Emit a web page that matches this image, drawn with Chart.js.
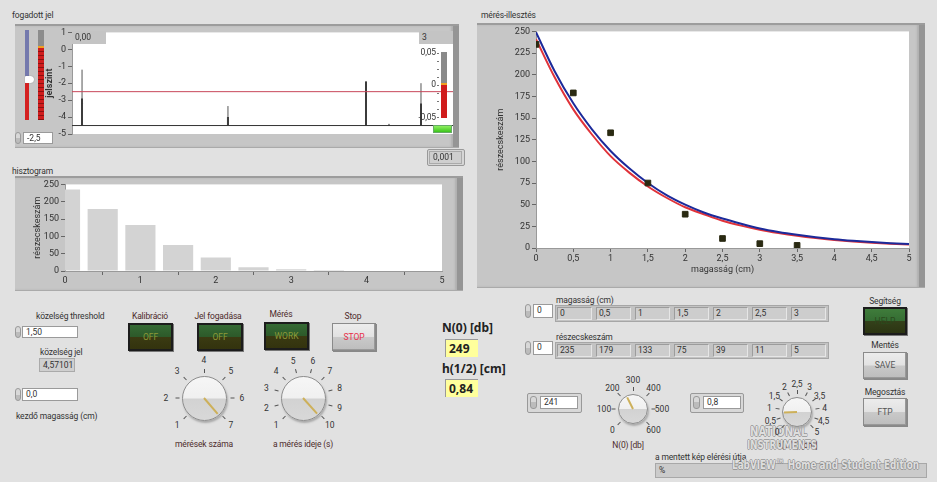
<!DOCTYPE html>
<html>
<head>
<meta charset="utf-8">
<script src="https://cdn.jsdelivr.net/npm/chart.js@4.4.1/dist/chart.umd.min.js"></script>
<style>
  body { margin: 0; width: 937px; height: 482px; background: #e1e1e1; font-family: Roboto, 'Noto Sans', sans-serif; font-size: 9px; color: #333; position: relative; overflow: hidden; }
  .abs { position: absolute; }
  .lbl { position: absolute; white-space: nowrap; font-size: 8.5px; letter-spacing: -0.15px; color: #333; line-height: 11px; }
  .ctr { transform: translateX(-50%); }
  .maroon { color: #4d2b2b; }
  .frame { position: absolute; background: #c6c6c6; border-top: 2px solid #9c9c9c; border-bottom: 1px solid #aaa; box-shadow: inset -6px 0 0 #959595, inset -8px 0 2px #b0b0b0; }
  .num { position: absolute; background: #fff; border: 1px solid #9a9a9a; font-size: 8.5px; line-height: 11px; padding-left: 3px; box-sizing: border-box; }
  .spin { position: absolute; width: 6px; background: linear-gradient(#d8d8d8 50%, #bcbcbc 50%); border: 1px solid #999; border-radius: 3px; box-sizing: border-box; }
  .ind { position: absolute; background: #cfcfcf; border: 1px solid #aaa; box-sizing: border-box; font-size: 8.5px; line-height: 12px; padding-left: 3px; }
  .btnG { position: absolute; border: 2px solid #1c1c1c; box-sizing: border-box; background: linear-gradient(#356a34 0%, #2d5a2a 48%, #3a3a12 52%, #33330e 100%); color: #8c9a38; text-align: center; font-size: 8.5px; box-shadow: 1px 1px 0 #777; }
  .btnL { position: absolute; border: 1px solid #8a8a8a; box-sizing: border-box; background: linear-gradient(#ececec 0%, #e2e2e2 48%, #c9c9c9 52%, #bdbdbd 100%); color: #555; text-align: center; font-size: 8.5px; box-shadow: 1px 1px 0 #888, inset -1px -1px 0 #999; }
  .yel { position: absolute; background: #ffff9c; border-top: 1px solid #999; border-left: 1px solid #999; font-weight: bold; font-size: 12px; line-height: 17px; padding-left: 3px; box-sizing: border-box; color: #222; font-family: 'Noto Sans', sans-serif; }
  .bold { position: absolute; font-weight: bold; font-size: 12px; color: #222; white-space: nowrap; font-family: 'Noto Sans', sans-serif; }
  .arr { position: absolute; background: #c3c3c3; border: 1px solid #a6a6a6; box-sizing: border-box; }
  .cell { position: absolute; top: 1px; width: 35px; height: 13px; background: #cdcdcd; border: 1px solid #9c9c9c; border-right-color: #e6e6e6; border-bottom-color: #e6e6e6; box-sizing: border-box; font-size: 8.5px; line-height: 11px; padding-left: 2px; }
  .knob { position: absolute; border-radius: 50%; border: 1px solid #8d8d8d; box-sizing: border-box; background: linear-gradient(#f6f6f6 0%, #f0f0f0 49%, #d2d2d2 51%, #d8d8d8 100%); box-shadow: 1px 2px 2px #aaa; }
  .kl { position: absolute; font-size: 8.5px; line-height: 10px; color: #333; transform: translate(-50%, -50%); white-space: nowrap; }
  .kt { position: absolute; width: 1px; background: #555; transform-origin: 50% 0; }
  .needle { position: absolute; width: 2px; background: #cdb05a; transform-origin: 50% 0; }
  canvas { position: absolute; }
  .wm { position: absolute; color: rgba(250,250,250,0.8); font-family: 'DejaVu Sans', sans-serif; font-weight: bold; white-space: nowrap; transform-origin: 0 0;
        text-shadow: 1px 0 0 rgba(120,120,120,0.6), -1px 0 0 rgba(120,120,120,0.6), 0 1px 0 rgba(120,120,120,0.6), 0 -1px 0 rgba(120,120,120,0.6); }
</style>
</head>
<body>

<!-- labels of the three graphs -->
<div class="lbl" style="left:12px;top:10px;">fogadott jel</div>
<div class="lbl" style="left:12px;top:166px;">hisztogram</div>
<div class="lbl" style="left:481px;top:10px;">mérés-illesztés</div>

<!-- graph frames -->
<div class="frame" style="left:15px;top:24px;width:444px;height:121px;"></div>
<div class="frame" style="left:15px;top:176px;width:448px;height:112px;"></div>
<div class="frame" style="left:477px;top:23px;width:448px;height:262px;"></div>

<canvas id="jelChart" width="444" height="122" style="left:15px;top:25px;"></canvas>
<canvas id="histChart" width="444" height="113" style="left:15px;top:177px;"></canvas>
<canvas id="fitChart" width="448" height="263" style="left:477px;top:24px;"></canvas>

<!-- fogadott jel extras -->
<div class="abs" style="left:25px;top:30px;width:4px;height:50px;background:#7479ad;"></div>
<div class="abs" style="left:25px;top:80px;width:4px;height:40px;background:#d42020;"></div>
<div class="abs" style="left:25px;top:76px;width:9px;height:7px;background:#fff;border-radius:1px 4px 4px 1px;box-shadow:0 0 1px #666;"></div>
<div class="abs" style="left:38px;top:30px;width:6px;height:16px;background:#8c8c8c;"></div>
<div class="abs" style="left:38px;top:46px;width:6px;height:2px;background:#f0a020;"></div>
<div class="abs" style="left:38px;top:48px;width:6px;height:72px;background:repeating-linear-gradient(#d01c1c 0 3px, #8a1010 3px 4px);"></div>
<div class="spin" style="left:15px;top:132px;height:12px;"></div>
<div class="num" style="left:23px;top:132px;width:30px;height:12px;">-2,5</div>

<div class="abs" style="left:72px;top:31px;width:34px;height:13px;background:#c4c4c4;font-size:8.5px;line-height:13px;padding-left:3px;box-sizing:border-box;">0,00</div>
<div class="abs" style="left:419px;top:31px;width:34px;height:13px;background:#c4c4c4;font-size:8.5px;line-height:13px;padding-left:3px;box-sizing:border-box;">3</div>
<div class="lbl" style="left:414px;top:47px;width:22px;text-align:right;">0,05</div>
<div class="lbl" style="left:414px;top:79px;width:22px;text-align:right;">0</div>
<div class="lbl" style="left:414px;top:112px;width:22px;text-align:right;">-0,05</div>
<div class="abs" style="left:437px;top:53px;width:2px;height:66px;background:repeating-linear-gradient(#777 0 1px, transparent 1px 8px);"></div>
<div class="abs" style="left:441px;top:52px;width:6px;height:31px;background:#8a8a8a;"></div>
<div class="abs" style="left:441px;top:83px;width:6px;height:2px;background:#f0a020;"></div>
<div class="abs" style="left:441px;top:85px;width:6px;height:33px;background:#d01c1c;"></div>
<div class="abs" style="left:433px;top:125px;width:19px;height:8px;background:linear-gradient(#8ef060,#3cc41c);border:1px solid #6a6;box-sizing:border-box;"></div>
<div class="abs" style="left:427px;top:149px;width:38px;height:17px;border:1px solid #999;border-radius:2px;background:#d6d6d6;box-sizing:border-box;"></div>
<div class="ind" style="left:429px;top:151px;width:33px;height:13px;line-height:11px;">0,001</div>

<!-- bottom-left controls -->
<div class="lbl" style="left:36px;top:311px;">közelség threshold</div>
<div class="spin" style="left:15px;top:326px;height:12px;"></div>
<div class="num" style="left:22px;top:326px;width:56px;height:12px;">1,50</div>
<div class="lbl" style="left:40px;top:347px;">közelség jel</div>
<div class="ind" style="left:39px;top:358px;width:36px;height:14px;">4,57101</div>
<div class="spin" style="left:15px;top:388px;height:13px;"></div>
<div class="num" style="left:22px;top:388px;width:56px;height:13px;">0,0</div>
<div class="lbl" style="left:16px;top:411px;">kezdő magasság (cm)</div>

<div class="lbl ctr maroon" style="left:150px;top:311px;">Kalibráció</div>
<div class="btnG" style="left:128px;top:323px;width:45px;height:28px;line-height:24px;">OFF</div>
<div class="lbl ctr maroon" style="left:218px;top:311px;">Jel fogadása</div>
<div class="btnG" style="left:197px;top:323px;width:46px;height:28px;line-height:24px;">OFF</div>
<div class="lbl ctr maroon" style="left:281px;top:309px;">Mérés</div>
<div class="btnG" style="left:264px;top:322px;width:45px;height:28px;line-height:24px;">WORK</div>
<div class="lbl ctr maroon" style="left:353px;top:311px;">Stop</div>
<div class="btnL" style="left:332px;top:323px;width:44px;height:28px;line-height:26px;color:#e8304a;">STOP</div>

<div class="lbl ctr maroon" style="left:204px;top:439px;">mérések száma</div>
<div class="lbl ctr maroon" style="left:303px;top:439px;">a mérés ideje (s)</div>

<!-- results -->
<div class="bold" style="left:442px;top:319px;">N(0) [db]</div>
<div class="yel" style="left:445px;top:339px;width:33px;height:18px;">249</div>
<div class="bold" style="left:442px;top:360px;">h(1/2) [cm]</div>
<div class="yel" style="left:445px;top:379px;width:33px;height:18px;">0,84</div>

<!-- array displays -->
<div class="lbl" style="left:556px;top:295px;">magasság (cm)</div>
<div class="spin" style="left:525px;top:304px;height:14px;"></div>
<div class="num" style="left:533px;top:304px;width:20px;height:14px;">0</div>
<div class="arr" id="arrH" style="left:555px;top:305px;width:274px;height:17px;"></div>
<div class="lbl" style="left:556px;top:332px;">részecskeszám</div>
<div class="spin" style="left:525px;top:341px;height:14px;"></div>
<div class="num" style="left:533px;top:341px;width:20px;height:14px;">0</div>
<div class="arr" id="arrN" style="left:555px;top:342px;width:274px;height:17px;"></div>

<!-- fit parameter controls -->
<div class="abs" style="left:527px;top:393px;width:55px;height:20px;background:#d8d8d8;border:1px solid #999;border-radius:2px;box-sizing:border-box;"></div>
<div class="spin" style="left:530px;top:396px;height:13px;width:7px;"></div>
<div class="num" style="left:540px;top:396px;width:38px;height:13px;">241</div>
<div class="abs" style="left:690px;top:393px;width:54px;height:20px;background:#d8d8d8;border:1px solid #999;border-radius:2px;box-sizing:border-box;"></div>
<div class="spin" style="left:693px;top:396px;height:13px;width:7px;"></div>
<div class="num" style="left:703px;top:396px;width:38px;height:13px;">0,8</div>
<div class="lbl ctr maroon" style="left:628px;top:440px;">N(0) [db]</div>
<div class="lbl ctr maroon" style="left:797px;top:440px;">h(1/2) [cm]</div>

<!-- right buttons -->
<div class="lbl ctr" style="left:885px;top:296px;">Segítség</div>
<div class="btnG" style="left:863px;top:307px;width:44px;height:28px;line-height:24px;background:linear-gradient(#3f7c3b 0%, #356d33 48%, #33401a 52%, #2c3512 100%);color:#2a4a1c;">HELP</div>
<div class="lbl ctr" style="left:885px;top:340px;">Mentés</div>
<div class="btnL" style="left:863px;top:352px;width:44px;height:27px;line-height:25px;">SAVE</div>
<div class="lbl ctr" style="left:885px;top:387px;">Megosztás</div>
<div class="btnL" style="left:863px;top:398px;width:44px;height:28px;line-height:26px;">FTP</div>

<div class="lbl" style="left:655px;top:452px;">a mentett kép elérési útja</div>
<div class="abs" style="left:655px;top:463px;width:272px;height:15px;background:#cbcbcb;border:1px solid #a8a8a8;box-sizing:border-box;font-size:8.5px;line-height:13px;padding-left:3px;">%</div>

<div class="wm" style="left:750px;top:424px;font-size:14px;line-height:14px;transform:scaleX(0.72);">NATIONAL</div>
<div class="wm" style="left:747px;top:439px;font-size:12px;line-height:12px;transform:scaleX(0.72);">INSTRUMENTS</div>
<div class="wm" style="left:732px;top:458px;font-size:13px;line-height:13px;transform:scaleX(0.68);">LabVIEW™ Home and Student Edition</div>

<script>
// ---- data ----
const jelMin = -5
const jelMax = 1
const jelBaseline = -4.5
const jelThreshold = -2.5
const spikeX = [0.079, 1.228, 2.315, 2.496, 2.748]
const spikeThinTop = [-1.2, -3.35, -1.9, -4.4, -2.0]
const spikeThickTop = [-2.9, -4.0, -1.9, -4.45, -3.2]

const histHeights = [0, 0.5, 1, 1.5, 2, 2.5, 3, 3.5]
const histCounts = [235, 179, 133, 75, 39, 11, 5, 3]

const fitHeights = [0, 0.5, 1, 1.5, 2, 2.5, 3, 3.5]
const fitCounts = [235, 179, 133, 75, 39, 11, 5, 3]

const curveX = [0, 0.25, 0.5, 0.75, 1, 1.25, 1.5, 1.75, 2, 2.25, 2.5, 2.75, 3, 3.25, 3.5, 3.75, 4, 4.25, 4.5, 4.75, 5]
const blueCurve = [249, 204, 167, 137, 112, 92, 75, 61, 50, 41, 34, 28, 22.6, 18.5, 15.2, 12.4, 10.1, 8.3, 6.8, 5.6, 4.6]
const redCurve = [241, 197, 160, 131, 106, 87, 71, 58, 47, 39, 31.5, 25.8, 21, 17.2, 14, 11.4, 9.3, 7.6, 6.2, 5.0, 4.1]

const magassagCells = ['0', '0,5', '1', '1,5', '2', '2,5', '3']
const reszecskeCells = ['235', '179', '133', '75', '39', '11', '5']

const knobMeresekLabels = ['1', '2', '3', '4', '5', '6', '7']
const knobIdoLabels = ['1', '2', '3', '4', '5', '6', '7', '8', '9', '10']
const knobN0Labels = ['0', '100', '200', '300', '400', '500', '600']
const knobHLabels = ['0', '0,5', '1', '1,5', '2', '2,5', '3', '3,5', '4', '4,5', '5']

// ---- helpers ----
const comma = (v) => String(v).replace('.', ',')
const tickFont = { family: 'Roboto', size: 9 }

const whiteArea = {
  id: 'whiteArea',
  beforeDraw(chart) {
    const { ctx, chartArea: a } = chart
    ctx.save()
    ctx.fillStyle = '#fff'
    ctx.fillRect(a.left, a.top, a.right - a.left, a.bottom - a.top)
    ctx.restore()
  },
}

const baseOptions = {
  animation: false,
  responsive: false,
  plugins: { legend: { display: false }, tooltip: { enabled: false } },
}

const spikePoints = (tops) => {
  const pts = []
  spikeX.forEach((x, i) => {
    pts.push({ x, y: jelBaseline }, { x, y: tops[i] }, { x, y: null })
  })
  return pts
}

// fogadott jel
new Chart(document.getElementById('jelChart'), {
  type: 'scatter',
  data: {
    datasets: [
      { data: [{ x: 0, y: jelBaseline }, { x: 3, y: jelBaseline }], showLine: true, borderColor: '#333', borderWidth: 1, pointRadius: 0 },
      { data: [{ x: 0, y: jelThreshold }, { x: 3, y: jelThreshold }], showLine: true, borderColor: '#c8475a', borderWidth: 1, pointRadius: 0 },
      { data: spikePoints(spikeThinTop), showLine: true, spanGaps: false, borderColor: '#555', borderWidth: 1, pointRadius: 0 },
      { data: spikePoints(spikeThickTop), showLine: true, spanGaps: false, borderColor: '#222', borderWidth: 2, pointRadius: 0 },
    ],
  },
  options: {
    ...baseOptions,
    layout: { padding: { top: 6, right: 6, bottom: 13, left: 0 } },
    scales: {
      x: { type: 'linear', min: 0, max: 3, display: false },
      y: {
        min: jelMin,
        max: jelMax,
        afterFit(s) { s.width = 57 },
        ticks: { stepSize: 1, font: tickFont, color: '#333', padding: 2 },
        grid: { drawOnChartArea: false, tickLength: 4, color: '#666' },
        border: { color: '#999' },
        title: { display: true, text: 'jelszint', font: { family: 'Roboto', size: 9, weight: 'bold' }, color: '#333', padding: { top: 29 } },
      },
    },
  },
  plugins: [whiteArea],
})

// hisztogram
new Chart(document.getElementById('histChart'), {
  type: 'bar',
  data: {
    datasets: [
      {
        data: histHeights.map((x, i) => ({ x, y: histCounts[i] })),
        backgroundColor: '#d3d3d3',
        barPercentage: 0.8,
        categoryPercentage: 1,
      },
    ],
  },
  options: {
    ...baseOptions,
    layout: { padding: { top: 4, right: 17, bottom: 0, left: 0 } },
    scales: {
      x: {
        type: 'linear',
        min: 0,
        max: 5,
        offset: false,
        afterFit(s) { s.height = 19 },
        ticks: { stepSize: 1, font: tickFont, color: '#333', padding: 0 },
        grid: { drawOnChartArea: false, tickLength: 4, color: '#666' },
        border: { color: '#999' },
      },
      y: {
        min: 0,
        max: 250,
        afterFit(s) { s.width = 50 },
        ticks: { stepSize: 50, font: tickFont, color: '#333', padding: 2 },
        grid: { drawOnChartArea: false, tickLength: 4, color: '#666' },
        border: { color: '#999' },
        title: { display: true, text: 'részecskeszám', font: tickFont, color: '#333', padding: { top: 17 } },
      },
    },
  },
  plugins: [whiteArea],
})

// mérés-illesztés
new Chart(document.getElementById('fitChart'), {
  type: 'scatter',
  data: {
    datasets: [
      {
        data: fitHeights.map((x, i) => ({ x, y: fitCounts[i] })),
        pointStyle: 'rect',
        pointRadius: 4,
        backgroundColor: '#2a2a12',
        borderColor: '#2a2a12',
        clip: 0,
        order: 0,
      },
      {
        data: curveX.map((x, i) => ({ x, y: blueCurve[i] })),
        showLine: true,
        cubicInterpolationMode: 'monotone',
        borderColor: '#1c2a9a',
        borderWidth: 2,
        pointRadius: 0,
        order: 1,
      },
      {
        data: curveX.map((x, i) => ({ x, y: redCurve[i] })),
        showLine: true,
        cubicInterpolationMode: 'monotone',
        borderColor: '#e0333a',
        borderWidth: 2,
        pointRadius: 0,
        order: 2,
      },
    ],
  },
  options: {
    ...baseOptions,
    layout: { padding: { top: 7, right: 16, bottom: 0, left: 0 } },
    scales: {
      x: {
        type: 'linear',
        min: 0,
        max: 5,
        afterFit(s) { s.height = 39 },
        ticks: { stepSize: 0.5, font: tickFont, color: '#333', padding: 1, callback: (v) => comma(v) },
        grid: { drawOnChartArea: false, tickLength: 4, color: '#666' },
        border: { color: '#999' },
        title: { display: true, text: 'magasság (cm)', font: tickFont, color: '#333', padding: { top: 0, bottom: 12 } },
      },
      y: {
        min: 0,
        max: 250,
        afterFit(s) { s.width = 59 },
        ticks: { stepSize: 25, font: tickFont, color: '#333', padding: 2 },
        grid: { drawOnChartArea: false, tickLength: 4, color: '#666' },
        border: { color: '#999' },
        title: { display: true, text: 'részecskeszám', font: tickFont, color: '#333', padding: { top: 18 } },
      },
    },
  },
  plugins: [whiteArea],
})

// ---- array displays ----
const fillArray = (id, values) => {
  const host = document.getElementById(id)
  values.forEach((v, i) => {
    const c = document.createElement('div')
    c.className = 'cell'
    c.style.left = 1 + i * 39 + 'px'
    c.textContent = v
    host.appendChild(c)
  })
}
fillArray('arrH', magassagCells)
fillArray('arrN', reszecskeCells)

// ---- knobs ----
const makeKnob = (cx, cy, r, labels, valueIndex, labelR) => {
  const add = (cls, css, text) => {
    const d = document.createElement('div')
    d.className = cls
    Object.assign(d.style, css)
    if (text !== undefined) d.textContent = text
    document.body.appendChild(d)
  }
  const n = labels.length
  labels.forEach((t, i) => {
    const ang = (-135 + (270 * i) / (n - 1)) * Math.PI / 180
    const sx = Math.sin(ang)
    const sy = -Math.cos(ang)
    add('kl', { left: cx + labelR * sx + 'px', top: cy + labelR * sy + 'px' }, t)
    add('kt', {
      left: cx + (r + 3) * sx + 'px',
      top: cy + (r + 3) * sy + 'px',
      height: '4px',
      transform: 'rotate(' + (ang * 180 / Math.PI + 180) + 'deg)',
    })
  })
  add('knob', { left: cx - r + 'px', top: cy - r + 'px', width: 2 * r + 'px', height: 2 * r + 'px' })
  const va = -135 + (270 * valueIndex) / (n - 1)
  add('needle', {
    left: cx - 1 + 'px',
    top: cy + 'px',
    height: r - 2 + 'px',
    transform: 'rotate(' + (va + 180) + 'deg)',
  })
}

makeKnob(204, 398, 22.5, knobMeresekLabels, 6.1, 38)
makeKnob(303, 398, 22.5, knobIdoLabels, 9.1, 38)
makeKnob(633, 409, 15, knobN0Labels, 2.41, 29)
makeKnob(797, 412, 15, knobHLabels, 1.6, 28)
</script>
</body>
</html>
